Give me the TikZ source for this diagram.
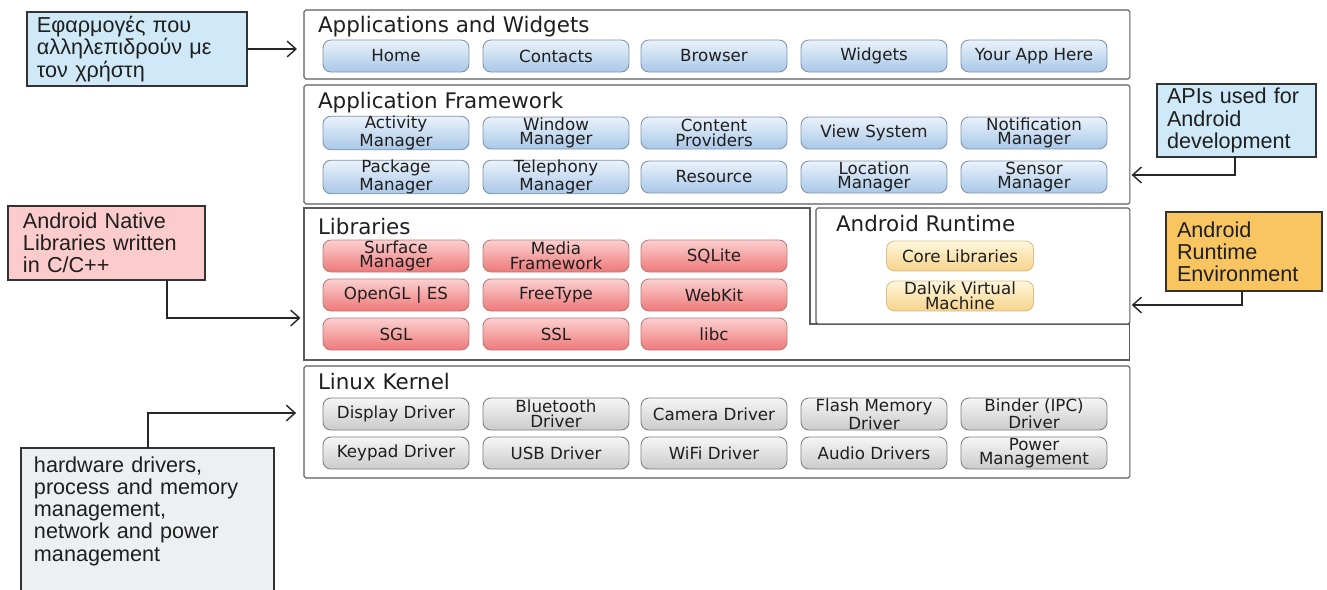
\documentclass[tikz,border=0pt]{standalone}
\usepackage{fontspec}
\setmainfont{DejaVu Sans}
\newfontfamily\calloutfont{Liberation Sans}
\usetikzlibrary{arrows.meta}

\definecolor{layerline}{HTML}{5C5C5C}
\definecolor{bluetop}{HTML}{EAF2FB}
\definecolor{bluebot}{HTML}{A9C8E8}
\definecolor{blueline}{HTML}{7E93AA}
\definecolor{redtop}{HTML}{FCD0D0}
\definecolor{redbot}{HTML}{EE7878}
\definecolor{redline}{HTML}{B87C7C}
\definecolor{yellowtop}{HTML}{FFF7DC}
\definecolor{yellowbot}{HTML}{F7D38A}
\definecolor{yellowline}{HTML}{D9C08E}
\definecolor{greytop}{HTML}{F6F6F6}
\definecolor{greybot}{HTML}{CBCBCB}
\definecolor{greyline}{HTML}{7E7E7E}
\definecolor{noteblue}{HTML}{CFE9F8}
\definecolor{notepink}{HTML}{FCCBCB}
\definecolor{noteorange}{HTML}{F9C560}
\definecolor{notegrey}{HTML}{EDF0F3}

\begin{document}
\begin{tikzpicture}[x = 0.02cm, y = -0.02cm,
  every node/.append style = {inner sep = 0pt, outer sep = 0pt, text = black!88},
  layer/.style = {draw = layerline, fill = white, line width = 0.6pt, rounded corners = 1pt, anchor = north west, minimum width = 16.52cm},
  layertitle/.style = {anchor = base west, font = \fontsize{12.2}{14}\selectfont},
  btn/.style = {rounded corners = 4.5pt, line width = 0.5pt, minimum width = 2.92cm, minimum height = 0.64cm, align = center, font = \fontsize{9.5}{8.3}\selectfont},
  bluebtn/.style = {btn, draw = blueline, top color = bluetop, bottom color = bluebot},
  redbtn/.style = {btn, draw = redline, top color = redtop, bottom color = redbot},
  yellowbtn/.style = {btn, draw = yellowline, top color = yellowtop, bottom color = yellowbot, minimum width = 2.94cm, minimum height = 0.6cm},
  greybtn/.style = {btn, draw = greyline, top color = greytop, bottom color = greybot},
  callout/.style = {draw = black!80, line width = 0.9pt, anchor = north west, align = left, inner xsep = 0.2cm, font = \calloutfont\fontsize{12.3}{12.6}\selectfont},
  calloutarrow/.style = {draw = black!85, line width = 0.8pt, -{Straight Barb[length = 5pt, width = 9pt]}}]

  \path[use as bounding box, clip] (0, 0) rectangle (1327, 589);

  % layers
  \node[layer, minimum height = 1.38cm] (apps) at (304, 10) {};
  \node[layer, minimum height = 2.38cm] (fw) at (304, 85) {};
  \node[layer, draw = none, fill = none, minimum height = 3.04cm] (libs) at (304, 208) {};
  \draw[draw = layerline, line width = 0.6pt] (libs.north west) -| (810, 324) -| (libs.south east) -- (libs.south west) -- cycle;
  \node[layer, minimum width = 6.28cm, minimum height = 2.32cm] (runtime) at (816, 208) {};
  \node[layer, minimum height = 2.24cm] (kernel) at (304, 366) {};

  \node[layertitle] (appstitle) at (318, 32) {Applications and Widgets};
  \node[layertitle] (fwtitle) at (318, 108) {Application Framework};
  \node[layertitle] (libstitle) at (318, 234) {Libraries};
  \node[layertitle] (runtimetitle) at (836, 231) {Android Runtime};
  \node[layertitle] (kerneltitle) at (318, 389) {Linux Kernel};

  % applications
  \node[bluebtn] (home) at (396, 56) {Home};
  \node[bluebtn] (contacts) at (556, 56) {Contacts};
  \node[bluebtn] (browser) at (714, 56) {Browser};
  \node[bluebtn] (widgets) at (874, 56) {Widgets};
  \node[bluebtn] (yourapp) at (1034, 56) {Your App Here};

  % framework
  \node[bluebtn] (activity) at (396, 133) {Activity\\Manager};
  \node[bluebtn] (window) at (556, 133) {Window\\Manager};
  \node[bluebtn] (content) at (714, 133) {Content\\Providers};
  \node[bluebtn] (view) at (874, 133) {View System};
  \node[bluebtn] (notification) at (1034, 133) {Notification\\Manager};

  \node[bluebtn] (package) at (396, 177) {Package\\Manager};
  \node[bluebtn] (telephony) at (556, 177) {Telephony\\Manager};
  \node[bluebtn] (resource) at (714, 177) {Resource};
  \node[bluebtn] (location) at (874, 177) {Location\\Manager};
  \node[bluebtn] (sensor) at (1034, 177) {Sensor\\Manager};

  % libraries
  \node[redbtn] (surface) at (396, 256) {Surface\\Manager};
  \node[redbtn] (media) at (556, 256) {Media\\Framework};
  \node[redbtn] (sqlite) at (714, 256) {SQLite};
  \node[redbtn] (opengl) at (396, 295) {OpenGL | ES};
  \node[redbtn] (freetype) at (556, 295) {FreeType};
  \node[redbtn] (webkit) at (714, 295) {WebKit};
  \node[redbtn] (sgl) at (396, 334) {SGL};
  \node[redbtn] (ssl) at (556, 334) {SSL};
  \node[redbtn] (libc) at (714, 334) {libc};

  % runtime
  \node[yellowbtn] (corelibs) at (960, 256) {Core Libraries};
  \node[yellowbtn] (dalvik) at (960, 296) {Dalvik Virtual\\Machine};

  % kernel
  \node[greybtn] (display) at (396, 414) {Display Driver};
  \node[greybtn] (bluetooth) at (556, 414) {Bluetooth\\Driver};
  \node[greybtn] (camera) at (714, 414) {Camera Driver};
  \node[greybtn] (flash) at (874, 414) {Flash Memory\\Driver};
  \node[greybtn] (binder) at (1034, 414) {Binder (IPC)\\Driver};
  \node[greybtn] (keypad) at (396, 453) {Keypad Driver};
  \node[greybtn] (usb) at (556, 453) {USB Driver};
  \node[greybtn] (wifi) at (714, 453) {WiFi Driver};
  \node[greybtn] (audio) at (874, 453) {Audio Drivers};
  \node[greybtn] (power) at (1034, 453) {Power\\Management};

  % callouts
  \node[callout, fill = noteblue, text width = 4.0cm, minimum height = 1.48cm] (greek) at (27, 12) {Εφαρμογές που\\αλληλεπιδρούν με\\τον χρήστη};
  \node[callout, fill = noteblue, text width = 2.78cm, minimum height = 1.46cm] (apis) at (1157, 84) {APIs used for\\Android\\development};
  \node[callout, fill = notepink, text width = 3.34cm, inner xsep = 0.3cm, minimum height = 1.48cm] (native) at (8, 206) {Android Native\\Libraries written\\in C/C++};
  \node[callout, fill = noteorange, text width = 2.68cm, inner xsep = 0.22cm, minimum height = 1.58cm] (rtenv) at (1166, 212) {Android\\Runtime\\Environment};
  \node[callout, fill = notegrey, text width = 4.54cm, inner xsep = 0.26cm, inner ysep = 5pt, text depth = 2.5cm] (hw) at (21, 448) {hardware drivers,\\process and memory\\management,\\network and power\\management};

  \draw[calloutarrow, shorten > = 4pt] (greek.east) -- (greek.east -| apps.west);
  \draw[calloutarrow, shorten > = 1pt] (apis.south -| 1235, 0) |- (fw.east |- 0, 175);
  \draw[calloutarrow, shorten > = 2pt] (native.south -| 167, 0) |- (libs.west |- 0, 318);
  \draw[calloutarrow, shorten > = 1pt] (rtenv.south -| 1242, 0) |- (runtime.east |- 0, 305);
  \draw[calloutarrow, shorten > = 4.5pt] (hw.north -| 148, 0) |- (kernel.west |- 0, 413);

\end{tikzpicture}
\end{document}
